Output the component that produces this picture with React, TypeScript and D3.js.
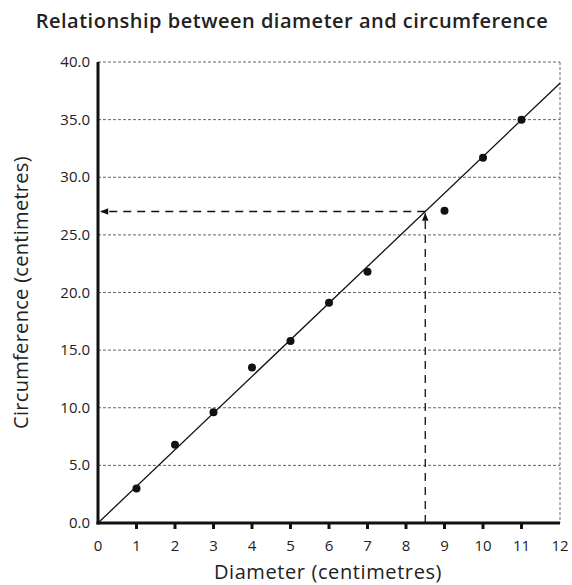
import * as d3 from 'd3';

const diameters = [1, 2, 3, 4, 5, 6, 7, 9, 10, 11];
const circumferences = [3.0, 6.8, 9.6, 13.5, 15.8, 19.1, 21.8, 27.1, 31.7, 35.0];
const xTicks = [0, 1, 2, 3, 4, 5, 6, 7, 8, 9, 10, 11, 12];
const yTicks = [0, 5, 10, 15, 20, 25, 30, 35, 40];
const slope = 3.18;
const readX = 8.5;

const W = 572;
const H = 585;
const left = 98;
const right = 560;
const top = 62;
const bottom = 523;
const font = "'Open Sans', sans-serif";

export default function App() {
  const x = d3.scaleLinear().domain([0, 12]).range([left, right]);
  const y = d3.scaleLinear().domain([0, 40]).range([bottom, top]);
  const readY = slope * readX;

  const fit = d3.line<number>()
    .x(d => x(d))
    .y(d => y(slope * d));

  return (
    <svg width={W} height={H} style={{ position: 'absolute', left: 0, top: 0 }}>
      <defs>
        <marker id="arr" viewBox="0 0 10 10" refX="9" refY="5" markerWidth="10" markerHeight="8" markerUnits="userSpaceOnUse" orient="auto">
          <path d="M0,1 L10,5 L0,9 Z" fill="#111" />
        </marker>
      </defs>
      <text x={292} y={28} textAnchor="middle" fontFamily={font} fontWeight={600} fontSize={20} letterSpacing={0.5} fill="#222">
        Relationship between diameter and circumference
      </text>

      {/* grid */}
      {yTicks.filter(t => t > 0).map(t => (
        <line key={t} x1={left} x2={right} y1={y(t)} y2={y(t)} stroke="#666" strokeWidth={1} strokeDasharray="3,2" />
      ))}
      <line x1={right} x2={right} y1={top} y2={bottom} stroke="#666" strokeWidth={1} strokeDasharray="3,2" />

      {/* fit line */}
      <path d={fit([0, 12]) ?? ''} stroke="#111" strokeWidth={1.3} fill="none" />

      {/* reading arrows */}
      <line x1={x(readX)} x2={x(readX)} y1={bottom} y2={y(readY) + 2} stroke="#111" strokeWidth={1.3} strokeDasharray="8,6" markerEnd="url(#arr)" />
      <line x1={x(readX)} x2={left + 3} y1={y(readY)} y2={y(readY)} stroke="#111" strokeWidth={1.3} strokeDasharray="8,6" markerEnd="url(#arr)" />

      {/* points */}
      {diameters.map((d, i) => (
        <circle key={d} cx={x(d)} cy={y(circumferences[i])} r={4} fill="#111" />
      ))}

      {/* axes */}
      <line x1={left} x2={left} y1={top} y2={bottom + 1.5} stroke="#111" strokeWidth={3} />
      <line x1={left - 1.5} x2={right} y1={bottom} y2={bottom} stroke="#111" strokeWidth={3} />
      {xTicks.filter(t => t > 0 && t < 12).map(t => (
        <line key={t} x1={x(t)} x2={x(t)} y1={bottom} y2={bottom + 6} stroke="#111" strokeWidth={3} />
      ))}
      {xTicks.map(t => (
        <text key={t} x={x(t)} y={551} textAnchor="middle" fontFamily={font} fontSize={15} fill="#222">{t}</text>
      ))}
      {yTicks.map(t => (
        <text key={t} x={90} y={y(t) + 5} textAnchor="end" fontFamily={font} fontSize={15} fill="#222">{d3.format('.1f')(t)}</text>
      ))}

      <text x={328} y={579} textAnchor="middle" fontFamily={font} fontSize={20} letterSpacing={0.6} fill="#222">Diameter (centimetres)</text>
      <text transform={`translate(28,${(top + bottom) / 2}) rotate(-90)`} textAnchor="middle" fontFamily={font} fontSize={20} letterSpacing={0.3} fill="#222">
        Circumference (centimetres)
      </text>
    </svg>
  );
}
